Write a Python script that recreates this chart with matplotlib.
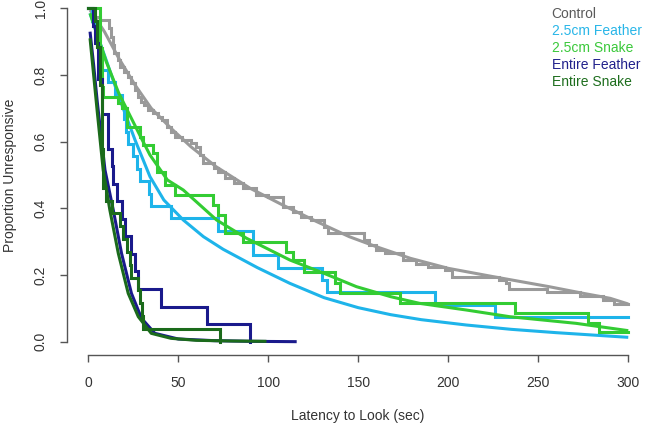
import numpy as np
import matplotlib.pyplot as plt

plt.rcParams['font.family'] = ['Liberation Sans', 'DejaVu Sans']

# 凡例ラベルと色
labels = ['Control', '2.5cm Feather', '2.5cm Snake', 'Entire Feather', 'Entire Snake']
colors = ['#9a9a9a', '#1eb4ea', '#33cc33', '#1a1a8c', '#1b6b1b']
text_colors = ['#5a5a5a', '#29b6e8', '#3bc93b', '#21218c', '#1e6e1e']

# Kaplan-Meier の階段データ (時間, 生存割合)
ctrl_t = [0, 2, 4, 6.5, 11.5, 12.5, 13.5, 14.5, 16.5, 17.5, 20, 22, 24, 26, 27.6, 29.5, 31, 33,
          36, 39, 41, 44, 46, 48, 52, 57, 60, 62, 64, 70, 72, 76, 81, 86, 93, 100, 108, 114,
          118, 124, 131, 133, 153, 156, 160, 165, 175, 182, 189, 198, 202, 228, 232, 234,
          255, 273, 286, 292, 300]
ctrl_s = [1.0, 0.985, 0.975, 0.965, 0.94, 0.915, 0.89, 0.866, 0.845, 0.825, 0.81, 0.795, 0.775,
          0.755, 0.735, 0.72, 0.71, 0.695, 0.685, 0.675, 0.665, 0.645, 0.63, 0.615, 0.605, 0.595,
          0.585, 0.56, 0.535, 0.52, 0.51, 0.49, 0.475, 0.46, 0.44, 0.435, 0.405, 0.39, 0.375,
          0.365, 0.345, 0.325, 0.305, 0.29, 0.275, 0.265, 0.245, 0.233, 0.225, 0.215, 0.195,
          0.185, 0.175, 0.157, 0.15, 0.137, 0.125, 0.113, 0.113]

f25_t = [0, 2, 3.5, 5, 6, 7.4, 11, 15, 18.5, 20, 21, 22, 25, 27, 28.7, 34, 35, 46, 72, 91.7,
         105.5, 129.6, 132.4, 192.6, 226, 300]
f25_s = [1.0, 0.963, 0.926, 0.889, 0.852, 0.815, 0.778, 0.741, 0.704, 0.667, 0.630, 0.593,
         0.556, 0.519, 0.481, 0.444, 0.407, 0.370, 0.333, 0.259, 0.222, 0.185, 0.148, 0.111,
         0.074, 0.074]

s25_t = [0, 6.5, 7.4, 8.3, 16.5, 18.5, 21.3, 28.7, 30.6, 36, 38, 42.6, 48, 69.4, 72, 76, 86,
         110, 114, 120, 137, 140, 173, 237, 277.5, 284, 300]
s25_s = [1.0, 0.88, 0.765, 0.735, 0.715, 0.70, 0.645, 0.615, 0.59, 0.565, 0.51, 0.47, 0.44,
         0.41, 0.38, 0.325, 0.30, 0.27, 0.245, 0.21, 0.175, 0.147, 0.117, 0.087, 0.057, 0.03,
         0.03]

ef_t = [0, 2.5, 3.7, 5.5, 7.4, 11, 13, 14, 15.7, 19, 20.4, 24, 26, 27.8, 40.2, 65.7, 89.8]
ef_s = [1.0, 0.947, 0.895, 0.789, 0.684, 0.579, 0.526, 0.474, 0.421, 0.368, 0.316, 0.263,
        0.211, 0.158, 0.105, 0.053, 0.0]

es_t = [0, 3.7, 5, 6.5, 7.4, 8.3, 10, 13, 17.6, 19.5, 21.3, 23, 24, 27.8, 28.7, 29.6, 30.6, 73.2]
es_s = [1.0, 0.962, 0.885, 0.769, 0.577, 0.462, 0.423, 0.385, 0.346, 0.308, 0.269, 0.231,
        0.192, 0.154, 0.115, 0.077, 0.038, 0.0]

# 当てはめ曲線 (画像から読んだ点)
ctrl_fit_t = [1, 9, 17, 26, 35, 46, 57, 71, 90, 108, 127, 145, 160, 179, 200, 225, 256, 275, 290, 300]
ctrl_fit_s = [0.995, 0.93, 0.85, 0.77, 0.70, 0.64, 0.585, 0.525, 0.46, 0.41, 0.36, 0.315, 0.285,
              0.25, 0.22, 0.195, 0.165, 0.145, 0.13, 0.113]

f25_fit_t = [1, 5, 9.3, 17, 26, 34.3, 42, 52.8, 64, 75, 94, 112, 131, 150, 168, 185, 210, 235,
             260, 280, 300]
f25_fit_s = [0.985, 0.92, 0.855, 0.735, 0.605, 0.495, 0.425, 0.365, 0.315, 0.277, 0.222, 0.175,
             0.132, 0.102, 0.081, 0.066, 0.05, 0.037, 0.027, 0.02, 0.013]

s25_fit_t = [1, 10, 17, 30, 34.3, 44, 52.8, 71.3, 88, 112, 131, 149, 168, 184, 210, 234, 271, 300]
s25_fit_s = [0.985, 0.84, 0.745, 0.605, 0.56, 0.485, 0.455, 0.365, 0.31, 0.245, 0.205, 0.165,
             0.135, 0.115, 0.095, 0.075, 0.055, 0.033]

ef_fit_t = [1, 3, 5, 9.3, 13.9, 18.5, 24, 29.6, 37, 50, 70, 90, 115.8]
ef_fit_s = [0.93, 0.83, 0.72, 0.515, 0.395, 0.265, 0.145, 0.07, 0.025, 0.008, 0.003, 0.001, 0.0]

es_fit_t = [1, 3, 5, 8.3, 12, 16.7, 22.2, 27.8, 35, 46, 60, 80, 99]
es_fit_s = [0.91, 0.80, 0.69, 0.515, 0.395, 0.265, 0.145, 0.075, 0.025, 0.01, 0.004, 0.002, 0.001]

fig = plt.figure(figsize=(6.45, 4.24), dpi=100)
ax = fig.add_axes([67 / 645, 69 / 424, 578 / 645, 355 / 424])

lw = 2.2
steps = [(ctrl_t, ctrl_s), (f25_t, f25_s), (s25_t, s25_s), (ef_t, ef_s), (es_t, es_s)]
fits = [(ctrl_fit_t, ctrl_fit_s), (f25_fit_t, f25_fit_s), (s25_fit_t, s25_fit_s),
        (ef_fit_t, ef_fit_s), (es_fit_t, es_fit_s)]
for (st, ss), (ft, fs), c in zip(steps, fits, colors):
    ax.step(st, ss, where='post', color=c, lw=lw, solid_joinstyle='miter')
    ax.plot(ft, fs, color=c, lw=lw, solid_capstyle='butt')

ax.set_xlim(-11.8, 309.3)
ax.set_ylim(-0.04, 1.025)

# R 風の軸
for side in ['top', 'right']:
    ax.spines[side].set_visible(False)
ax.spines['left'].set_bounds(0, 1)
ax.spines['bottom'].set_bounds(0, 300)
for side in ['left', 'bottom']:
    ax.spines[side].set_color('#555555')
    ax.spines[side].set_linewidth(1.0)
ax.set_xticks([0, 50, 100, 150, 200, 250, 300])
ax.set_yticks([0.0, 0.2, 0.4, 0.6, 0.8, 1.0])
ax.set_yticklabels(['0.0', '0.2', '0.4', '0.6', '0.8', '1.0'], rotation=90, va='center')
ax.tick_params(axis='both', direction='out', length=5, width=1, color='#555555',
               labelcolor='#333333', labelsize=10)
ax.tick_params(axis='y', pad=9)
ax.tick_params(axis='x', pad=10)

fig.text(358 / 645, 1 - 416 / 424, 'Latency to Look (sec)', ha='center', va='center',
         fontsize=10, color='#333333')
fig.text(10 / 645, 1 - 175 / 424, 'Proportion Unresponsive', ha='center', va='center',
         rotation=90, fontsize=10, color='#333333')

# 凡例
for i, (lab, tc) in enumerate(zip(labels, text_colors)):
    fig.text(551.7 / 645, 1 - (13.5 + 17.2 * i) / 424, lab, ha='left', va='center',
             fontsize=10, color=tc)

fig.savefig('out.png', dpi=100)
